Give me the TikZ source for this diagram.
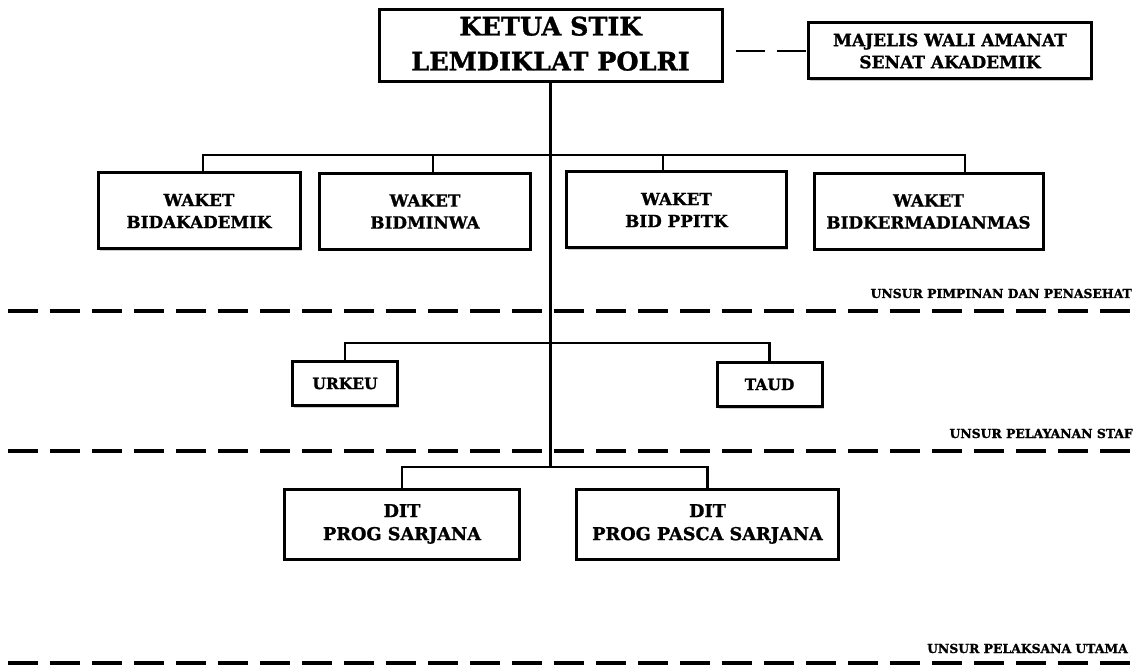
\documentclass[tikz,border=0pt]{standalone}
\usepackage{fontspec}
\setmainfont{DejaVu Serif}[BoldFeatures={FakeBold=1.2}]
\usetikzlibrary{shadows}
\begin{document}
\begin{tikzpicture}[x=1pt,y=-1pt,
  box/.style={draw, line width=3pt, fill=white, align=center, inner sep=0pt,
    drop shadow={shadow xshift=1.5pt, shadow yshift=-2pt, fill=black, opacity=.2}},
  conn/.style={line width=2.8pt},
  sepline/.style={line width=3.8pt, dash pattern=on 30pt off 12pt},
  lab/.style={font=\bfseries\fontsize{12.4}{14}\selectfont, inner sep=0pt, anchor=base east},
  wk/.style={box, minimum height=76pt, font=\bfseries\fontsize{16.8}{22}\selectfont},
  sm/.style={box, minimum height=44pt, minimum width=105pt, font=\bfseries\fontsize{15.5}{16}\selectfont},
  dt/.style={box, minimum height=70pt, font=\bfseries\fontsize{17.7}{23}\selectfont}]
\useasboundingbox (0,0) rectangle (1138,668);
\fill[white] (0,0) rectangle (1138,668);

% separators
\coordinate (s1a) at (8,311);   \coordinate (s1b) at (1138,311);
\coordinate (s2a) at (8,451);   \coordinate (s2b) at (1138,451);
\coordinate (s3a) at (8,663);   \coordinate (s3b) at (1138,663);
\draw[sepline] (s1a) -- (s1b);
\draw[sepline] (s2a) -- (s2b);
\draw[sepline] (s3a) -- (s3b);
\node[lab] (l1) at (1132,298) {UNSUR PIMPINAN DAN PENASEHAT};
\node[lab] (l2) at (1133,438) {UNSUR PELAYANAN STAF};
\node[lab] (l3) at (1128,653) {UNSUR PELAKSANA UTAMA};

% trunk and bars
\node[box, minimum width=343pt, minimum height=72pt, text depth=4pt, font=\bfseries\fontsize{25.5}{35}\selectfont] (ketua) at (550.5,45.5) {KETUA STIK\\LEMDIKLAT POLRI};
\coordinate (wbar) at (550,155);
\coordinate (sbar) at (550,343);
\coordinate (dbar) at (550,467);
\draw[conn] (ketua.south) -- (ketua.south |- dbar);

\node[box, minimum width=283pt, minimum height=56pt, font=\bfseries\fontsize{17}{22}\selectfont] (mwa) at (950,51) {MAJELIS WALI AMANAT\\SENAT AKADEMIK};
\draw[conn, dash pattern=on 29pt off 12pt] ([xshift=12pt]ketua.east |- mwa.west) -- (mwa.west);

\node[wk, minimum width=202pt] (w1) at (199,211) {WAKET\\BIDAKADEMIK};
\node[wk, minimum width=211pt] (w2) at (425,211.5) {WAKET\\BIDMINWA};
\node[wk, minimum width=220pt] (w3) at (676.5,210) {WAKET\\BID PPITK};
\node[wk, minimum width=229pt] (w4) at (928.5,211.5) {WAKET\\BIDKERMADIANMAS};
\draw[conn] ([xshift=4pt]w1.north) |- (wbar) -| ([xshift=36.5pt]w4.north);
\draw[conn] ([xshift=8pt]w2.north) -- ([xshift=8pt]w2.north |- wbar);
\draw[conn] ([xshift=-13.5pt]w3.north) -- ([xshift=-13.5pt]w3.north |- wbar);

\node[sm] (urkeu) at (345,383.5) {URKEU};
\node[sm] (taud) at (769.5,384.5) {TAUD};
\draw[conn] (urkeu.north) |- (sbar) -| (taud.north);

\node[dt, minimum width=235pt] (dit1) at (402,524) {DIT\\PROG SARJANA};
\node[dt, minimum width=262pt] (dit2) at (707.5,524) {DIT\\PROG PASCA SARJANA};
\draw[conn] (dit1.north) |- (dbar) -| (dit2.north);
\end{tikzpicture}
\end{document}
